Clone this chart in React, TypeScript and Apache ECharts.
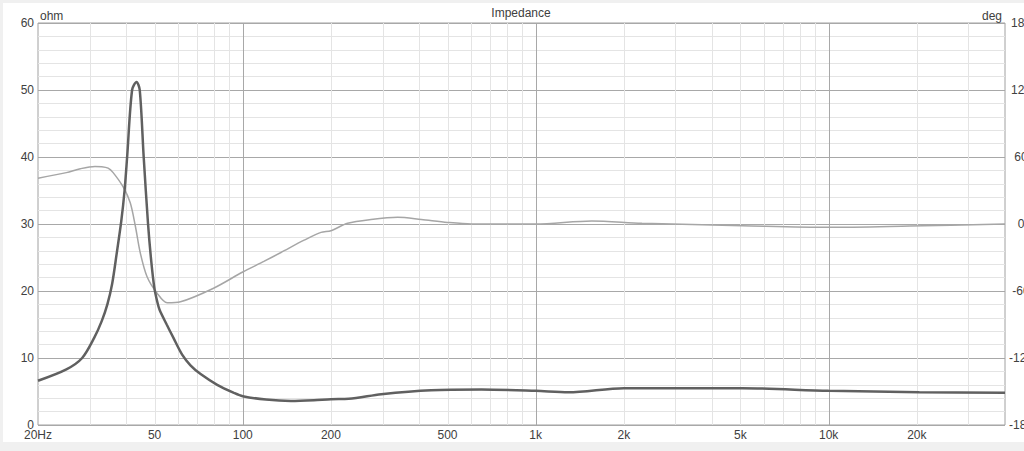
import React, { useEffect, useRef } from "react";
import * as echarts from "echarts";

const impFreq = [20, 25, 28.3, 31.1, 33, 34.5, 35.8, 37.1, 38.5, 39.5, 40.3, 41.9, 43.4, 44.5, 45.9, 47.5, 48.7, 49.9, 51, 52, 55, 58, 62.1, 66.3, 71.8, 81.8, 93.3, 100, 120, 146, 175, 200, 230, 297, 440, 653, 1000, 1293, 2000, 5070, 10000, 20400, 40000];
const impOhm = [6.6, 8.3, 10, 13, 15.5, 18, 21, 25.5, 30.5, 35, 40, 50, 51.2, 50, 40, 30, 24.5, 20.5, 18.5, 17.2, 15, 13, 10.5, 8.9, 7.6, 6.0, 4.8, 4.3, 3.8, 3.6, 3.7, 3.85, 3.9, 4.6, 5.2, 5.3, 5.1, 4.9, 5.5, 5.5, 5.1, 4.9, 4.8];

const phFreq = [20, 25, 27.9, 31.3, 33, 34.7, 36.1, 39.1, 41.3, 43, 44.7, 47.1, 51, 55.2, 61.3, 79.5, 100, 118, 135, 162, 185, 200, 228, 274, 338, 407, 500, 603, 1000, 1554, 2305, 5070, 10000, 18900, 40000];
const phDeg = [41, 46, 49.5, 51.5, 51.3, 50, 46, 33, 19, -2, -26, -47, -62, -70.5, -69.6, -57.5, -43, -33.5, -25.5, -14.5, -7.5, -6, 0.6, 4, 6, 4, 1.4, 0, 0, 2.7, 0.6, -1.5, -3, -1.8, 0];

const minorGridFreq = [30, 40, 50, 60, 70, 80, 90, 200, 300, 400, 500, 600, 700, 800, 900, 2000, 3000, 4000, 5000, 6000, 7000, 8000, 9000, 20000, 30000];
const majorGridFreq = [100, 1000, 10000];

const tickFreq = [20, 50, 100, 200, 500, 1000, 2000, 5000, 10000, 20000];
const tickLabels = ["20Hz", "50", "100", "200", "500", "1k", "2k", "5k", "10k", "20k"];

const F_MIN = 20;
const F_MAX = 40000;
const FONT = "Liberation Sans, Arial, sans-serif";

export default function App() {
  const ref = useRef<HTMLDivElement>(null);

  useEffect(() => {
    if (!ref.current) return;
    const chart = echarts.init(ref.current, undefined, { renderer: "svg" });
    const lg = (f: number) => Math.log10(f);

    const gridData = [
      ...minorGridFreq.map((f) => [lg(f), 0]),
      ...majorGridFreq.map((f) => [lg(f), 1]),
    ];

    const option: any = {
      animation: false,
      backgroundColor: "#f0f0f0",
      textStyle: { fontFamily: FONT },
      grid: {
        left: 38,
        right: 19,
        top: 23,
        bottom: 26,
        show: true,
        borderColor: "#a0a0a0",
        borderWidth: 1,
        backgroundColor: "#ffffff",
        containLabel: false,
        outerBoundsMode: "none",
      },
      graphic: [
        {
          type: "rect",
          z: -100,
          silent: true,
          shape: { x: 3, y: 3, width: 1021, height: 439 },
          style: { fill: "#ffffff" },
        },
        {
          type: "text",
          x: 521,
          y: 13,
          style: { text: "Impedance", fontSize: 12, fontFamily: FONT, fill: "#404040", textAlign: "center", textVerticalAlign: "middle" },
        },
        {
          type: "text",
          x: 40,
          y: 16,
          style: { text: "ohm", fontSize: 12, fontFamily: FONT, fill: "#404040", textAlign: "left", textVerticalAlign: "middle" },
        },
        {
          type: "text",
          x: 1002,
          y: 16,
          style: { text: "deg", fontSize: 12, fontFamily: FONT, fill: "#404040", textAlign: "right", textVerticalAlign: "middle" },
        },
      ],
      xAxis: {
        type: "value",
        min: lg(F_MIN),
        max: lg(F_MAX),
        axisLine: { show: false },
        axisTick: { show: false },
        axisLabel: { show: false },
        splitLine: { show: false },
      },
      yAxis: [
        {
          type: "value",
          min: 0,
          max: 60,
          interval: 10,
          position: "left",
          axisLine: { show: false },
          axisTick: { show: false },
          axisLabel: { color: "#404040", fontSize: 12, margin: 4, fontFamily: FONT },
          splitLine: { show: true, lineStyle: { color: "#a8a8a8", width: 1 } },
          minorTick: { show: false, splitNumber: 5 },
          minorSplitLine: { show: true, lineStyle: { color: "#e4e4e4", width: 1 } },
        },
        {
          type: "value",
          min: -180,
          max: 180,
          interval: 60,
          position: "right",
          axisLine: { show: false },
          axisTick: { show: false },
          axisLabel: { color: "#404040", fontSize: 12, margin: 16, align: "center", fontFamily: FONT },
          splitLine: { show: false },
        },
      ],
      series: [
        {
          type: "custom",
          name: "vgrid",
          xAxisIndex: 0,
          yAxisIndex: 0,
          silent: true,
          z: 1,
          data: gridData,
          renderItem: (params: any, api: any) => {
            const x = api.value(0);
            const kind = api.value(1);
            const p0 = api.coord([x, 0]);
            const p1 = api.coord([x, 60]);
            const px = Math.round(p0[0]) + 0.5;
            return {
              type: "line",
              shape: { x1: px, y1: p0[1], x2: px, y2: p1[1] },
              style: { stroke: kind ? "#a8a8a8" : "#e4e4e4", lineWidth: 1 },
            };
          },
        },
        {
          type: "custom",
          name: "xlabels",
          xAxisIndex: 0,
          yAxisIndex: 0,
          silent: true,
          z: 3,
          data: tickFreq.map((f) => [lg(f), 0]),
          renderItem: (params: any, api: any) => {
            const p = api.coord([api.value(0), 0]);
            return {
              type: "text",
              x: p[0],
              y: p[1] + 10,
              style: {
                text: tickLabels[params.dataIndex],
                fontSize: 12,
                fontFamily: FONT,
                fill: "#404040",
                textAlign: "center",
                textVerticalAlign: "middle",
              },
            };
          },
        },
        {
          type: "line",
          name: "Phase",
          yAxisIndex: 1,
          data: phFreq.map((f, i) => [lg(f), phDeg[i]]),
          showSymbol: false,
          smooth: 0.3,
          lineStyle: { color: "#a6a6a6", width: 1.5 },
          z: 4,
        },
        {
          type: "line",
          name: "Impedance",
          yAxisIndex: 0,
          data: impFreq.map((f, i) => [lg(f), impOhm[i]]),
          showSymbol: false,
          smooth: 0.3,
          lineStyle: { color: "#606060", width: 2.5 },
          z: 5,
        },
      ],
    };

    chart.setOption(option);
    return () => {
      chart.dispose();
    };
  }, []);

  return (
    <div
      ref={ref}
      style={{ position: "fixed", left: 0, top: 0, width: 1024, height: 451 }}
    />
  );
}
